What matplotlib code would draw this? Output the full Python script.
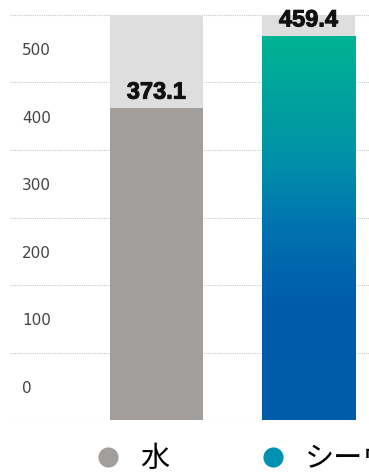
import matplotlib
matplotlib.use("Agg")
import matplotlib.pyplot as plt
import matplotlib.patheffects as pe
import matplotlib.transforms as mtransforms
import numpy as np
from matplotlib.colors import LinearSegmentedColormap
from matplotlib.lines import Line2D

plt.rcParams['font.family'] = ['DejaVu Sans', 'Noto Sans CJK JP']

# data
categories = ["水", "シーウェ"]
values = [373.1, 459.4]
value_labels = ["373.1", "459.4"]
tick_labels = ["0", "100", "200", "300", "400", "500"]
track_max = 484          # height of the light background track
grid_step = track_max / 6

gray = "#a19e9b"
track = "#dedede"
grad = LinearSegmentedColormap.from_list(
    "sw", [(0.0, "#005ca9"), (0.3, "#005bab"), (0.5, "#0072b0"),
           (0.67, "#0090a8"), (1.0, "#00b493")])

fig = plt.figure(figsize=(3.69, 4.74), dpi=100)
ax = fig.add_axes([10 / 369, 54 / 474, 359 / 369, 405 / 474])

x = np.arange(len(categories))
width = 0.612

# dotted grid
for g in np.arange(7) * grid_step:
    ax.axhline(g, color="#c8c8c8", lw=0.8, ls=(0, (1, 1)), zorder=0)

# tracks
ax.bar(x, [track_max] * len(x), width=width, color=track, zorder=1)

# water bar
ax.bar(x[0], values[0], width=width, color=gray, zorder=2)

# gradient bar
b = ax.bar(x[1], values[1], width=width, color="none", zorder=2)[0]
img = ax.imshow(np.linspace(0, 1, 256).reshape(-1, 1), cmap=grad, origin="lower",
                extent=[x[1] - width / 2, x[1] + width / 2, 0, values[1]],
                aspect="auto", zorder=2)
img.set_clip_path(b)

for xi, v, lab in zip(x, values, value_labels):
    ax.annotate(lab, (xi, v), xytext=(0, 3), textcoords="offset points",
                ha="center", va="bottom", fontsize=17, fontweight="bold",
                family="Liberation Sans", color="#111111", zorder=3,
                path_effects=[pe.withStroke(linewidth=0.7, foreground="#111111")])

# y labels sit between grid lines
shift = mtransforms.ScaledTranslation(0, -2 / 100, fig.dpi_scale_trans)
for i, lab in enumerate(tick_labels):
    ax.text(12 / 359, grid_step * i + grid_step / 2, lab,
            transform=ax.get_yaxis_transform() + shift,
            ha="left", va="center", fontsize=11, color="#444444")

ax.set_xlim(-146.5 / 152, 1 + 60.5 / 152)
ax.set_ylim(0, track_max)
ax.axis("off")

handles = [Line2D([], [], marker="o", ls="none", ms=14.5, color=gray, markeredgewidth=0),
           Line2D([], [], marker="o", ls="none", ms=14.5, color="#0090b0", markeredgewidth=0)]
fig.legend(handles, categories, loc="center left", bbox_to_anchor=(98 / 369, 15 / 474),
           ncol=2, frameon=False, borderpad=0, borderaxespad=0, handlelength=0.7,
           handletextpad=0.75, columnspacing=3.2,
           prop={"family": "Noto Sans CJK JP", "size": 21})

fig.savefig("out.png", dpi=100)
